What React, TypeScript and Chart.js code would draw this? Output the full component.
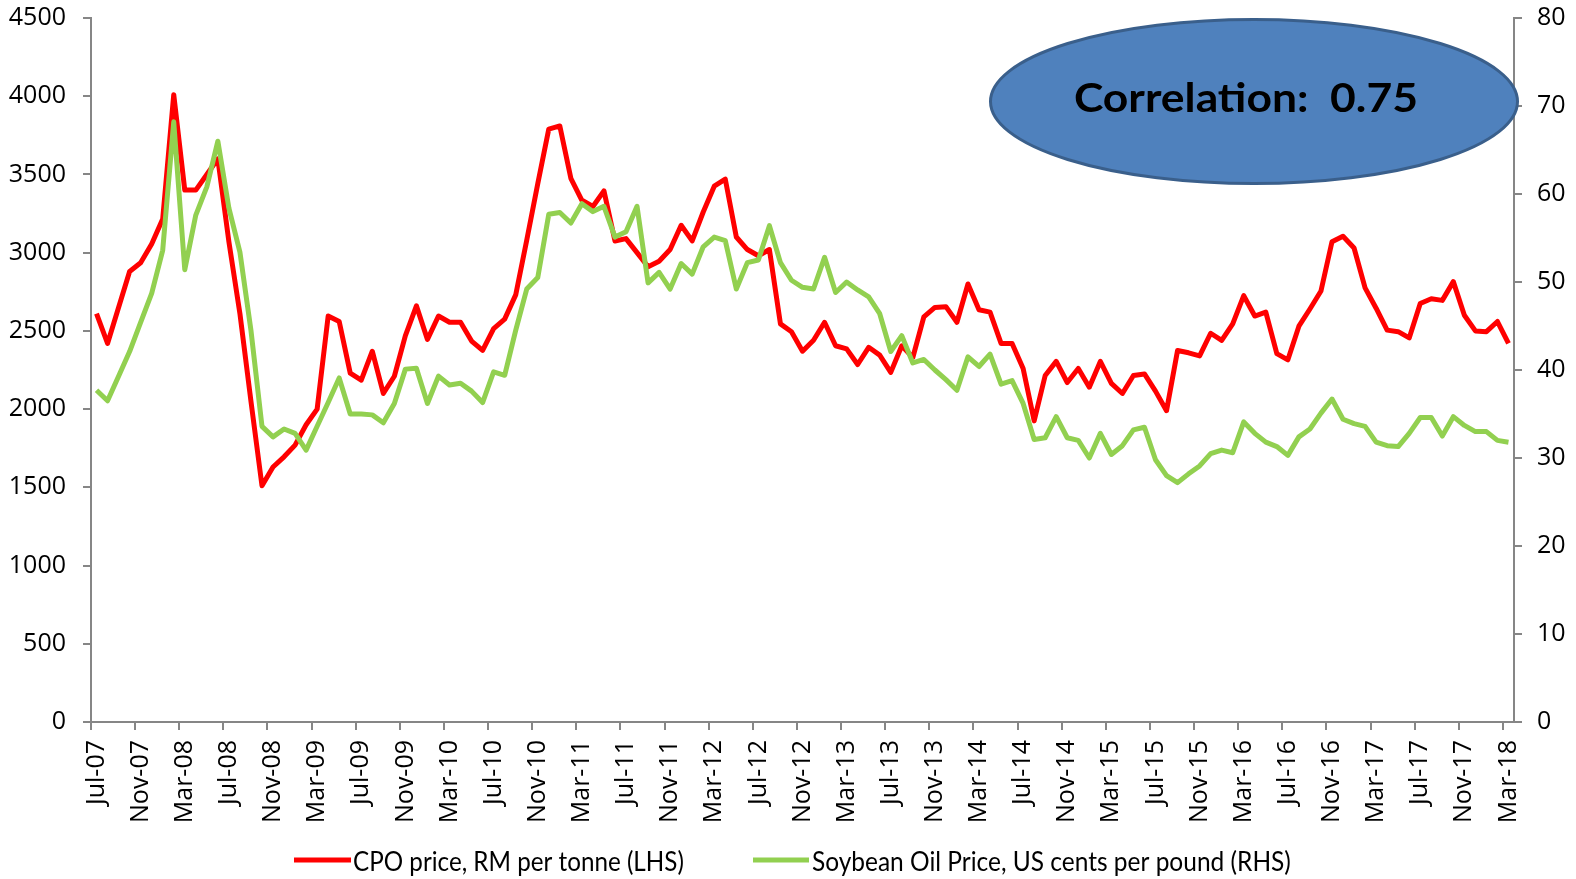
import React, { useEffect, useRef } from 'react';
import { Chart, registerables } from 'chart.js';

Chart.register(...registerables);

const CATEGORIES = [
  'Jul-07', 'Aug-07', 'Sep-07', 'Oct-07', 'Nov-07', 'Dec-07',
  'Jan-08', 'Feb-08', 'Mar-08', 'Apr-08', 'May-08', 'Jun-08', 'Jul-08', 'Aug-08', 'Sep-08', 'Oct-08', 'Nov-08', 'Dec-08',
  'Jan-09', 'Feb-09', 'Mar-09', 'Apr-09', 'May-09', 'Jun-09', 'Jul-09', 'Aug-09', 'Sep-09', 'Oct-09', 'Nov-09', 'Dec-09',
  'Jan-10', 'Feb-10', 'Mar-10', 'Apr-10', 'May-10', 'Jun-10', 'Jul-10', 'Aug-10', 'Sep-10', 'Oct-10', 'Nov-10', 'Dec-10',
  'Jan-11', 'Feb-11', 'Mar-11', 'Apr-11', 'May-11', 'Jun-11', 'Jul-11', 'Aug-11', 'Sep-11', 'Oct-11', 'Nov-11', 'Dec-11',
  'Jan-12', 'Feb-12', 'Mar-12', 'Apr-12', 'May-12', 'Jun-12', 'Jul-12', 'Aug-12', 'Sep-12', 'Oct-12', 'Nov-12', 'Dec-12',
  'Jan-13', 'Feb-13', 'Mar-13', 'Apr-13', 'May-13', 'Jun-13', 'Jul-13', 'Aug-13', 'Sep-13', 'Oct-13', 'Nov-13', 'Dec-13',
  'Jan-14', 'Feb-14', 'Mar-14', 'Apr-14', 'May-14', 'Jun-14', 'Jul-14', 'Aug-14', 'Sep-14', 'Oct-14', 'Nov-14', 'Dec-14',
  'Jan-15', 'Feb-15', 'Mar-15', 'Apr-15', 'May-15', 'Jun-15', 'Jul-15', 'Aug-15', 'Sep-15', 'Oct-15', 'Nov-15', 'Dec-15',
  'Jan-16', 'Feb-16', 'Mar-16', 'Apr-16', 'May-16', 'Jun-16', 'Jul-16', 'Aug-16', 'Sep-16', 'Oct-16', 'Nov-16', 'Dec-16',
  'Jan-17', 'Feb-17', 'Mar-17', 'Apr-17', 'May-17', 'Jun-17', 'Jul-17', 'Aug-17', 'Sep-17', 'Oct-17', 'Nov-17', 'Dec-17',
  'Jan-18', 'Feb-18', 'Mar-18',
];

// CPO price, RM per tonne (left axis)
const CPO_PRICE = [
  2610, 2420, 2650, 2880, 2935, 3055,
  3215, 4010, 3400, 3400, 3500, 3600, 3070, 2610, 2050, 1510, 1630, 1695,
  1770, 1900, 2000, 2595, 2560, 2230, 2185, 2370, 2100, 2210, 2470, 2660,
  2445, 2595, 2555, 2555, 2435, 2375, 2515, 2575, 2730, 3080, 3440, 3790,
  3810, 3475, 3335, 3295, 3395, 3075, 3090, 3000, 2910, 2945, 3020, 3175,
  3075, 3260, 3425, 3470, 3100, 3020, 2980, 3020, 2545, 2495, 2370, 2440,
  2555, 2405, 2385, 2285, 2395, 2345, 2235, 2405, 2330, 2590, 2650, 2655,
  2555, 2800, 2635, 2620, 2420, 2420, 2260, 1925, 2215, 2305, 2170, 2260,
  2140, 2305, 2165, 2100, 2215, 2225, 2115, 1990, 2375, 2360, 2340, 2485,
  2440, 2545, 2725, 2595, 2620, 2355, 2315, 2530, 2640, 2755, 3070, 3105,
  3030, 2775, 2645, 2505, 2495, 2455, 2675, 2705, 2695, 2815, 2600, 2500,
  2495, 2560, 2420,
];

// Soybean oil price, US cents per pound (right axis)
const SOY_PRICE = [
  37.7, 36.5, 39.3, 42.1, 45.4, 48.7,
  53.6, 68.2, 51.4, 57.6, 60.8, 66.0, 58.4, 53.4, 44.5, 33.6, 32.4, 33.3,
  32.8, 30.9, 33.6, 36.3, 39.1, 35.0, 35.0, 34.9, 34.0, 36.2, 40.1, 40.2,
  36.2, 39.3, 38.3, 38.5, 37.6, 36.3, 39.8, 39.4, 44.5, 49.2, 50.5, 57.7,
  57.9, 56.7, 58.9, 58.0, 58.6, 55.1, 55.7, 58.6, 49.9, 51.1, 49.2, 52.1,
  50.9, 54.0, 55.1, 54.7, 49.2, 52.2, 52.5, 56.4, 52.2, 50.2, 49.4, 49.2,
  52.8, 48.8, 50.0, 49.1, 48.3, 46.4, 42.1, 43.9, 40.8, 41.2, 40.0, 38.9,
  37.7, 41.5, 40.4, 41.8, 38.4, 38.8, 36.2, 32.1, 32.3, 34.7, 32.3, 32.0,
  30.0, 32.8, 30.4, 31.4, 33.2, 33.5, 29.8, 28.0, 27.2, 28.2, 29.1, 30.5,
  30.9, 30.6, 34.1, 32.8, 31.8, 31.3, 30.3, 32.4, 33.3, 35.1, 36.7, 34.4,
  33.9, 33.6, 31.8, 31.4, 31.3, 32.8, 34.6, 34.6, 32.5, 34.7, 33.7, 33.0,
  33.0, 32.0, 31.8,
];

const SERIES_LABELS = ['CPO price, RM per tonne (LHS)', 'Soybean Oil Price, US cents per pound (RHS)'];
const CORRELATION_TEXT = 'Correlation:  0.75';
const LEFT_AXIS = { min: 0, max: 4500, step: 500 };
const RIGHT_AXIS = { min: 0, max: 80, step: 10 };
const LABEL_EVERY = 4;

const RED = '#FF0000';
const GREEN = '#92D050';
const AXIS_GRAY = '#868686';
const TICK_FONT = { family: '"Open Sans", "DejaVu Sans", sans-serif', size: 25 };

function fillFitted(ctx: CanvasRenderingContext2D, text: string, x: number, baseline: number, width: number) {
  const m = ctx.measureText(text);
  const inkW = m.actualBoundingBoxRight + m.actualBoundingBoxLeft;
  const s = width / inkW;
  ctx.save();
  ctx.translate(x + m.actualBoundingBoxLeft * s, baseline);
  ctx.scale(s, 1);
  ctx.textAlign = 'left';
  ctx.textBaseline = 'alphabetic';
  ctx.fillText(text, 0, 0);
  ctx.restore();
}

const overlayPlugin = {
  id: 'overlay',
  afterDraw(chart: any) {
    const ctx: CanvasRenderingContext2D = chart.ctx;
    ctx.save();
    // legend
    const items = [
      { lineFrom: 294, lineTo: 351, textX: 354, textW: 329 },
      { lineFrom: 753, lineTo: 809, textX: 812, textW: 478 },
    ];
    chart.data.datasets.forEach((ds: any, i: number) => {
      const it = items[i];
      ctx.strokeStyle = ds.borderColor;
      ctx.lineWidth = 5;
      ctx.lineCap = 'butt';
      ctx.beginPath();
      ctx.moveTo(it.lineFrom, 860);
      ctx.lineTo(it.lineTo, 860);
      ctx.stroke();
      ctx.fillStyle = '#000';
      ctx.font = '26px Lato, "Open Sans", sans-serif';
      fillFitted(ctx, ds.label, it.textX, 871, it.textW);
    });
    // correlation ellipse
    ctx.beginPath();
    ctx.ellipse(1254, 101.5, 263.5, 82, 0, 0, Math.PI * 2);
    ctx.fillStyle = '#4F81BD';
    ctx.fill();
    ctx.lineWidth = 3;
    ctx.strokeStyle = '#3A5F8B';
    ctx.stroke();
    ctx.fillStyle = '#000';
    ctx.font = 'bold 41px Lato, "Open Sans", sans-serif';
    fillFitted(ctx, CORRELATION_TEXT, 1075, 112, 341);
    ctx.restore();
  },
};

const plainNumber = (v: any) => String(v);

export default function App() {
  const canvasRef = useRef<HTMLCanvasElement | null>(null);

  useEffect(() => {
    if (!canvasRef.current) return;
    const chart = new Chart(canvasRef.current, {
      type: 'line',
      data: {
        labels: CATEGORIES,
        datasets: [
          {
            label: SERIES_LABELS[0],
            data: CPO_PRICE,
            borderColor: RED,
            backgroundColor: RED,
            borderWidth: 5,
            yAxisID: 'yLeft',
            order: 2,
            pointRadius: 0,
            tension: 0,
            borderJoinStyle: 'round',
          },
          {
            label: SERIES_LABELS[1],
            data: SOY_PRICE,
            borderColor: GREEN,
            backgroundColor: GREEN,
            borderWidth: 5,
            yAxisID: 'yRight',
            order: 1,
            pointRadius: 0,
            tension: 0,
            borderJoinStyle: 'round',
          },
        ],
      },
      options: {
        animation: false,
        responsive: true,
        maintainAspectRatio: false,
        devicePixelRatio: 1,
        layout: { padding: { top: 18, left: 0, right: 0, bottom: 0 } },
        plugins: {
          legend: { display: false },
          title: { display: false },
          tooltip: { enabled: false },
        },
        scales: {
          x: {
            type: 'category',
            offset: true,
            grid: {
              display: true,
              drawOnChartArea: false,
              drawTicks: true,
              tickLength: 8,
              offset: true,
              lineWidth: 2,
              color: (c: any) =>
                typeof c.index === 'number' && c.index % LABEL_EVERY === 0 ? AXIS_GRAY : 'rgba(0,0,0,0)',
            },
            border: { display: true, color: AXIS_GRAY, width: 2 },
            ticks: {
              autoSkip: false,
              minRotation: 90,
              maxRotation: 90,
              padding: 10,
              color: '#000',
              font: TICK_FONT,
              callback: (_v: any, i: number) => (i % LABEL_EVERY === 0 ? CATEGORIES[i] : ''),
            },
            afterFit: (s: any) => {
              s.height = 157;
              s.paddingLeft = 0;
              s.paddingRight = 0;
            },
          },
          yLeft: {
            type: 'linear',
            position: 'left',
            min: LEFT_AXIS.min,
            max: LEFT_AXIS.max,
            grid: { drawOnChartArea: false, drawTicks: true, tickLength: 8, lineWidth: 2, color: AXIS_GRAY },
            border: { display: true, color: AXIS_GRAY, width: 2 },
            ticks: { stepSize: LEFT_AXIS.step, padding: 17, color: '#000', font: TICK_FONT, callback: plainNumber },
            afterFit: (s: any) => {
              s.width = 91;
              s.paddingTop = 0;
              s.paddingBottom = 0;
            },
          },
          yRight: {
            type: 'linear',
            position: 'right',
            min: RIGHT_AXIS.min,
            max: RIGHT_AXIS.max,
            grid: { drawOnChartArea: false, drawTicks: true, tickLength: 8, lineWidth: 2, color: AXIS_GRAY },
            border: { display: true, color: AXIS_GRAY, width: 2 },
            ticks: { stepSize: RIGHT_AXIS.step, padding: 15, color: '#000', font: TICK_FONT, callback: plainNumber },
            afterFit: (s: any) => {
              s.width = 62;
              s.paddingTop = 0;
              s.paddingBottom = 0;
            },
          },
        },
      },
      plugins: [overlayPlugin],
    } as any);
    return () => chart.destroy();
  }, []);

  return (
    <div style={{ position: 'fixed', left: 0, top: 0, width: 1576, height: 879, background: '#fff' }}>
      <canvas ref={canvasRef} />
    </div>
  );
}
